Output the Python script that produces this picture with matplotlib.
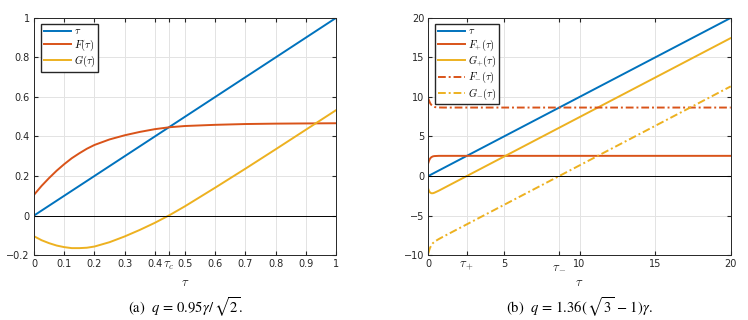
import numpy as np
import matplotlib.pyplot as plt

plt.rcParams['mathtext.fontset'] = 'cm'

# colori stile MATLAB
c_blu = '#0072BD'
c_ros = '#D95319'
c_gia = '#EDB120'

# --- pannello (a)
tau_a = [0, 1]
xa = [0, 0.025, 0.05, 0.075, 0.1, 0.125, 0.15, 0.175, 0.2, 0.25, 0.3, 0.35, 0.4, 0.45, 0.5, 0.6, 0.7, 0.8, 0.9, 1.0]
F_a = [0.105, 0.15, 0.19, 0.227, 0.26, 0.29, 0.315, 0.338, 0.357, 0.385, 0.406, 0.423, 0.437, 0.447, 0.453, 0.459, 0.463, 0.465, 0.466, 0.467]
G_a = [-0.105, -0.125, -0.14, -0.152, -0.16, -0.165, -0.165, -0.163, -0.157, -0.135, -0.106, -0.073, -0.037, 0.003, 0.047, 0.141, 0.237, 0.335, 0.434, 0.533]
tau_c = 0.447

# --- pannello (b)
tau_b = [0, 20]
xb = [0, 0.05, 0.1, 0.15, 0.2, 0.3, 0.4, 0.5, 0.7, 1.0, 20]
Fp = [1.65, 1.95, 2.15, 2.28, 2.38, 2.48, 2.52, 2.53, 2.55, 2.55, 2.55]
Gp = [-1.65, -1.9, -2.05, -2.13, -2.18, -2.18, -2.12, -2.03, -1.85, -1.55, 17.45]
Fm = [9.8, 9.55, 9.3, 9.12, 9.0, 8.82, 8.74, 8.7, 8.67, 8.66, 8.66]
Gm = [-9.8, -9.45, -9.15, -8.95, -8.75, -8.5, -8.33, -8.2, -7.97, -7.66, 11.34]
tau_p = 2.55
tau_m = 8.66

fig = plt.figure(figsize=(7.48, 3.2), dpi=100)

def stile(ax):
    ax.grid(True, color='#e3e3e3', lw=0.7)
    ax.set_axisbelow(True)
    ax.tick_params(direction='in', labelsize=7, length=3, top=True, right=True, pad=3,
                   colors='#262626')
    for s in ax.spines.values():
        s.set_linewidth(0.7)
        s.set_color('#262626')
    ax.axhline(0, color='k', lw=0.7)
    ax.set_xlabel(r'$\tau$', fontsize=9, labelpad=3, color='#262626')
    ax.legend(loc='upper left', fontsize=7.5, handlelength=2.6, handletextpad=0.3,
              borderpad=0.25, labelspacing=0.1, borderaxespad=0,
              fancybox=False, edgecolor='#262626', framealpha=1,
              bbox_to_anchor=(0.023, 0.975))
    for t in ax.get_xticklabels():
        if '$' in t.get_text():
            t.set_fontsize(9)

ax1 = fig.add_axes([0.0455, 0.203, 0.4037, 0.741])
ax1.plot(tau_a, tau_a, color=c_blu, lw=1.4, label=r'$\tau$')
ax1.plot(xa, F_a, color=c_ros, lw=1.4, label=r'$F(\tau)$')
ax1.plot(xa, G_a, color=c_gia, lw=1.4, label=r'$G(\tau)$')
ax1.set_xlim(0, 1)
ax1.set_ylim(-0.2, 1)
ax1.set_xticks([0, 0.1, 0.2, 0.3, 0.4, tau_c, 0.5, 0.6, 0.7, 0.8, 0.9, 1])
ax1.set_xticklabels(['0', '0.1', '0.2', '0.3', '0.4', r'$\tau_c$', '0.5', '0.6', '0.7', '0.8', '0.9', '1'])
ax1.set_yticks([-0.2, 0, 0.2, 0.4, 0.6, 0.8, 1])
ax1.set_yticklabels(['\u22120.2', '0', '0.2', '0.4', '0.6', '0.8', '1'])
stile(ax1)

ax2 = fig.add_axes([0.5726, 0.203, 0.4043, 0.741])
ax2.plot(tau_b, tau_b, color=c_blu, lw=1.4, label=r'$\tau$')
ax2.plot(xb, Fp, color=c_ros, lw=1.4, label=r'$F_{+}(\tau)$')
ax2.plot(xb, Gp, color=c_gia, lw=1.4, label=r'$G_{+}(\tau)$')
ax2.plot(xb, Fm, color=c_ros, lw=1.4, ls=(0, (4, 1.5, 1, 1.5)), label=r'$F_{-}(\tau)$')
ax2.plot(xb, Gm, color=c_gia, lw=1.4, ls=(0, (4, 1.5, 1, 1.5)), label=r'$G_{-}(\tau)$')
ax2.set_xlim(0, 20)
ax2.set_ylim(-10, 20)
ax2.set_xticks([0, tau_p, 5, tau_m, 10, 15, 20])
ax2.set_xticklabels(['0', r'$\tau_+$', '5', r'$\tau_-$', '10', '15', '20'])
ax2.set_yticks([-10, -5, 0, 5, 10, 15, 20])
ax2.set_yticklabels(['\u221210', '\u22125', '0', '5', '10', '15', '20'])
stile(ax2)

# didascalie
fig.text(0.2475, 0.02, r'(a)  $q\,=\,0.95\gamma/\,\sqrt{2}.$', ha='center', fontsize=10.5,
         family='STIXGeneral', math_fontfamily='stix')
fig.text(0.7745, 0.02, r'(b)  $q\,=\,1.36(\,\sqrt{3}\,-\,1)\gamma.$', ha='center', fontsize=10.5,
         family='STIXGeneral', math_fontfamily='stix')

fig.savefig('out.png', dpi=100)
